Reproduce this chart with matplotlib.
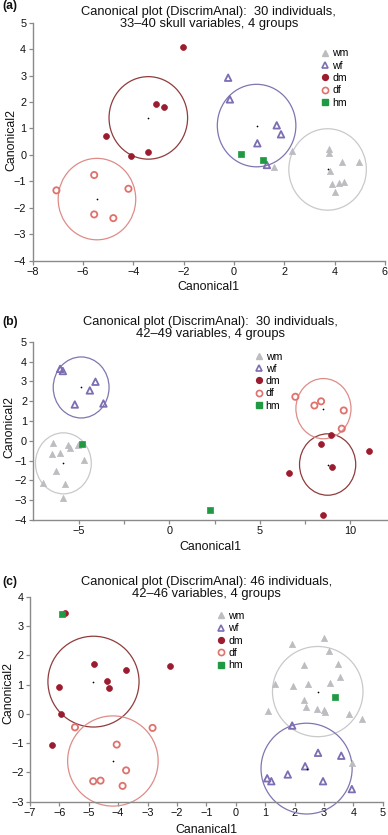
import numpy as np
import matplotlib
matplotlib.use("Agg")
import matplotlib.pyplot as plt
from matplotlib.patches import Circle
from matplotlib.lines import Line2D

plt.rcParams['font.family'] = ['Liberation Sans', 'DejaVu Sans']

# ── Panel (a) data ────────────────────────────────────────────────────────────
a_wm_x = [2.32, 1.58, 3.76, 3.78, 3.82, 4.29, 4.98, 3.89, 4.19, 4.39, 4.02]
a_wm_y = [0.16, -0.46, 0.21, 0.06, -0.60, -0.28, -0.28, -1.11, -1.05, -1.03, -1.40]
a_wf_x = [-0.23, -0.16, 1.70, 1.87, 0.93, 1.31]
a_wf_y = [2.92, 2.10, 1.12, 0.78, 0.44, -0.38]
a_dm_x = [-2.01, -3.08, -2.78, -5.09, -4.08, -3.40]
a_dm_y = [4.08, 1.92, 1.82, 0.73, -0.04, 0.11]
a_df_x = [-7.05, -5.55, -4.19, -5.55, -4.79]
a_df_y = [-1.34, -0.76, -1.28, -2.25, -2.39]
a_hm_x = [0.30, 1.15]
a_hm_y = [0.02, -0.18]
# group means / circles, order wm, wf, dm, df
a_cx = [3.72, 0.90, -3.40, -5.44]
a_cy = [-0.55, 1.11, 1.40, -1.67]
a_cr = [1.54, 1.56, 1.56, 1.54]

# ── Panel (b) data ────────────────────────────────────────────────────────────
b_wm_x = [-6.43, -5.56, -5.45, -5.06, -6.45, -6.00, -4.70, -6.22, -6.94, -5.73, -5.84]
b_wm_y = [-0.12, -0.20, -0.39, -0.19, -0.69, -0.64, -0.96, -1.55, -2.14, -2.17, -2.89]
b_wf_x = [-6.02, -5.87, -4.07, -4.38, -5.21, -3.63]
b_wf_y = [3.63, 3.52, 2.98, 2.54, 1.83, 1.88]
b_dm_x = [8.93, 8.36, 11.03, 8.99, 6.63, 8.51]
b_dm_y = [0.27, -0.15, -0.50, -1.30, -1.62, -3.73]
b_df_x = [6.96, 8.01, 8.38, 9.63, 9.52]
b_df_y = [2.22, 1.78, 1.99, 1.53, 0.61]
b_hm_x = [-4.79, 2.25]
b_hm_y = [-0.15, -3.50]
b_cx = [-5.84, -4.86, 8.74, 8.51]
b_cy = [-1.14, 2.69, -1.20, 1.62]
b_cr = [1.54, 1.54, 1.55, 1.52]

# ── Panel (c) data ────────────────────────────────────────────────────────────
c_wm_x = [1.92, 2.99, 3.18, 2.31, 3.49, 3.55, 1.35, 1.94, 2.47, 3.20,
          2.31, 2.40, 2.77, 2.99, 3.02, 1.11, 3.84, 4.30, 3.95]
c_wm_y = [2.39, 2.60, 2.13, 1.67, 1.70, 1.25, 1.01, 0.94, 1.01, 1.06,
          0.47, 0.25, 0.16, 0.14, 0.05, 0.11, -0.02, -0.19, -1.67]
c_wf_x = [1.92, 2.80, 3.59, 2.36, 1.77, 1.07, 1.21, 2.97, 3.95]
c_wf_y = [-0.40, -1.33, -1.43, -1.79, -2.07, -2.20, -2.30, -2.30, -2.57]
c_dm_x = [-5.80, -4.82, -3.73, -4.39, -4.30, -6.01, -5.95, -6.26, -2.25]
c_dm_y = [3.44, 1.71, 1.50, 1.13, 0.88, 0.92, 0.00, -1.06, 1.63]
c_df_x = [-5.47, -2.83, -4.05, -3.73, -4.85, -4.60, -3.85]
c_df_y = [-0.46, -0.48, -1.05, -1.93, -2.30, -2.28, -2.46]
c_hm_x = [-5.91, 3.38]
c_hm_y = [3.40, 0.56]
c_cx = [2.79, 2.41, -4.84, -4.18]
c_cy = [0.76, -1.87, 1.10, -1.61]
c_cr = [1.54, 1.55, 1.55, 1.54]

groups = ["wm", "wf", "dm", "df", "hm"]

# ── Styles ────────────────────────────────────────────────────────────────────
W, H = 388, 835
GREY   = "#bdbdc1"
PURPLE = "#7d6db3"
DRED   = "#9b1c2e"
PINK   = "#e0716c"
GREEN  = "#1f9a42"
ring_col = ["#c9c9cb", "#7d76b1", "#8f3c3c", "#de8c88"]
SPINE = "#8a8a8a"

mk = {
    "wm": dict(marker="^", s=20, facecolor=GREY, edgecolor=GREY, linewidths=0.5),
    "wf": dict(marker="^", s=22, facecolor="none", edgecolor=PURPLE, linewidths=1.3),
    "dm": dict(marker="o", s=18, facecolor=DRED, edgecolor=DRED, linewidths=0.5),
    "df": dict(marker="o", s=20, facecolor="none", edgecolor=PINK, linewidths=1.3),
    "hm": dict(marker="s", s=16, facecolor=GREEN, edgecolor=GREEN, linewidths=0.5),
}
leg_kw = {
    "wm": dict(marker="^", markersize=4.6, markerfacecolor=GREY, markeredgecolor=GREY),
    "wf": dict(marker="^", markersize=4.8, markerfacecolor="none", markeredgecolor=PURPLE, markeredgewidth=1.2),
    "dm": dict(marker="o", markersize=4.2, markerfacecolor=DRED, markeredgecolor=DRED),
    "df": dict(marker="o", markersize=4.4, markerfacecolor="none", markeredgecolor=PINK, markeredgewidth=1.2),
    "hm": dict(marker="s", markersize=3.8, markerfacecolor=GREEN, markeredgecolor=GREEN),
}


def fx(px):
    return px / W


def fy(py):
    return 1 - py / H


def rect(l, t, r, b):
    return [fx(l), fy(b), (r - l) / W, (b - t) / H]


fig = plt.figure(figsize=(W / 100, H / 100), dpi=100, facecolor="white")

panels = [
    dict(tag="(a)", rect=rect(32.5, 22.7, 385, 260.7), xlim=(-8, 6), ylim=(-4, 5),
         xt=np.arange(-8, 7, 2), xminor=[], yt=np.arange(-4, 6, 1),
         title="Canonical plot (DiscrimAnal):  30 individuals,\n33\u201340 skull variables, 4 groups",
         title_y=18.5, tag_y=6.5, xlabel="Canonical1", xlab_y=287, ylab=(11, 140),
         leg=(322, 48.5), pts=[(a_wm_x, a_wm_y), (a_wf_x, a_wf_y), (a_dm_x, a_dm_y),
                               (a_df_x, a_df_y), (a_hm_x, a_hm_y)],
         cx=a_cx, cy=a_cy, cr=a_cr),
    dict(tag="(b)", rect=rect(33.3, 341.7, 386.7, 520), xlim=(-7.5, 12), ylim=(-4, 5),
         xt=[-5, 0, 5, 10], xminor=[-2.5, 2.5, 7.5], yt=np.arange(-4, 6, 1),
         title="Canonical plot (DiscrimAnal):  30 individuals,\n42\u201349 variables, 4 groups",
         title_y=327.5, tag_y=321.5, xlabel="Canonical1", xlab_y=546.5, ylab=(9, 427),
         leg=(255.5, 351.5), pts=[(b_wm_x, b_wm_y), (b_wf_x, b_wf_y), (b_dm_x, b_dm_y),
                                  (b_df_x, b_df_y), (b_hm_x, b_hm_y)],
         cx=b_cx, cy=b_cy, cr=b_cr),
    dict(tag="(c)", rect=rect(30, 596.7, 382.7, 801.7), xlim=(-7, 5), ylim=(-3, 4),
         xt=np.arange(-7, 6, 1), xminor=[], yt=np.arange(-3, 5, 1),
         title="Canonical plot (DiscrimAnal): 46 individuals,\n42\u201346 variables, 4 groups",
         title_y=587.5, tag_y=581.5, xlabel="Cananical1", xlab_y=830, ylab=(8, 693),
         leg=(218, 611), pts=[(c_wm_x, c_wm_y), (c_wf_x, c_wf_y), (c_dm_x, c_dm_y),
                              (c_df_x, c_df_y), (c_hm_x, c_hm_y)],
         cx=c_cx, cy=c_cy, cr=c_cr),
]

for p in panels:
    ax = fig.add_axes(p["rect"])
    ax.set_xlim(*p["xlim"])
    ax.set_ylim(*p["ylim"])
    ax.set_xticks(p["xt"])
    ax.set_xticks(p["xminor"], minor=True)
    ax.set_yticks(p["yt"])
    ax.set_xticklabels([f"{v:g}".replace("-", "\u2212") for v in p["xt"]])
    ax.set_yticklabels([f"{v:g}".replace("-", "\u2212") for v in p["yt"]])
    for side in ("top", "right"):
        ax.spines[side].set_visible(False)
    for side in ("left", "bottom"):
        ax.spines[side].set_color(SPINE)
        ax.spines[side].set_linewidth(1.0)
    ax.tick_params(which="both", direction="out", length=3, width=0.9, color=SPINE,
                   labelsize=7.8, labelcolor="#111111", pad=1.5)

    # confidence circles and group means
    for i in range(4):
        ax.add_patch(Circle((p["cx"][i], p["cy"][i]), p["cr"][i], fill=False,
                            edgecolor=ring_col[i], linewidth=0.9, clip_on=False, zorder=2))
    ax.scatter(p["cx"], p["cy"], s=1.5, color="black", zorder=4, linewidths=0)

    for g, (xs, ys) in zip(groups, p["pts"]):
        ax.scatter(xs, ys, zorder=3, clip_on=False, **mk[g])

    handles = [Line2D([], [], linestyle="none", **leg_kw[g]) for g in groups]
    lx, ly = p["leg"]
    ax.legend(handles, groups, loc="upper left", bbox_to_anchor=(fx(lx), fy(ly)),
              bbox_transform=fig.transFigure, frameon=False, fontsize=7.6,
              handlelength=0.6, handletextpad=0.35, labelspacing=0.22,
              borderpad=0, borderaxespad=0, markerscale=1.0)

    l, b, w, h = p["rect"]
    fig.text(l + w / 2, fy(p["title_y"]), p["title"], ha="center", va="center",
             fontsize=9.3, linespacing=1.0, color="#111111")
    fig.text(fx(2), fy(p["tag_y"]), p["tag"], ha="left", va="center",
             fontsize=8.8, fontweight="bold", color="#111111")
    fig.text(l + w / 2, fy(p["xlab_y"]), p["xlabel"], ha="center", va="center",
             fontsize=8.9, color="#111111")
    fig.text(fx(p["ylab"][0]), fy(p["ylab"][1]), "Canonical2", ha="center", va="center",
             rotation=90, fontsize=8.9, color="#111111")

plt.savefig("out.png", dpi=100, facecolor="white")
